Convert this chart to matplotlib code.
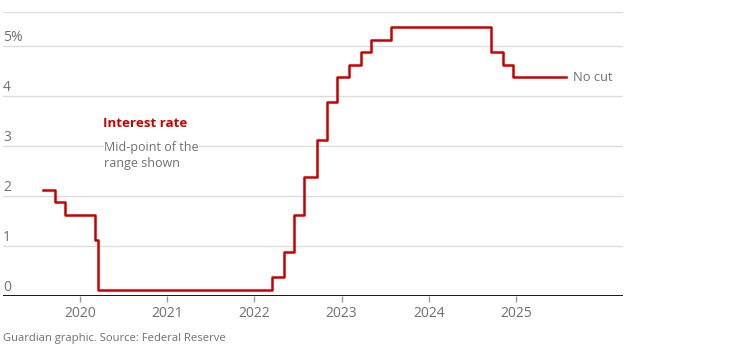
import matplotlib.pyplot as plt
import pandas as pd
import numpy as np

# Fed funds target range, mid-point (%) after each change
change_dates = ["2019-07-31", "2019-09-18", "2019-10-30", "2020-03-03", "2020-03-15",
                "2022-03-16", "2022-05-04", "2022-06-15", "2022-07-27", "2022-09-21",
                "2022-11-02", "2022-12-14", "2023-02-01", "2023-03-22", "2023-05-03",
                "2023-07-26", "2024-09-18", "2024-11-07", "2024-12-18", "2025-07-30"]
mid_rate = [2.125, 1.875, 1.625, 1.125, 0.125,
            0.375, 0.875, 1.625, 2.375, 3.125,
            3.875, 4.375, 4.625, 4.875, 5.125,
            5.375, 4.875, 4.625, 4.375, 4.375]

year_ticks = [2020, 2021, 2022, 2023, 2024, 2025]
rate_ticks = [0, 1, 2, 3, 4, 5]
rate_labels = ["0", "1", "2", "3", "4", "5%"]

d = pd.to_datetime(change_dates)
days = np.where(d.is_leap_year, 366, 365)
x = d.year + (d.dayofyear - 1) / days

red = "#c70000"
grey = "#707070"
plt.rcParams["font.family"] = ["Open Sans", "DejaVu Sans"]

fig = plt.figure(figsize=(7.36, 3.64), dpi=100)
ax = fig.add_axes([3 / 736, 1 - 296 / 364, 620 / 736, (296 - 12.3) / 364])

ax.set_xlim(2019.117, 2026.227)
ax.set_ylim(0, 5.674)

for v in rate_ticks[1:] + [5.674]:
    ax.axhline(v, color="#dcdcdc", lw=1, zorder=1)
ax.axhline(0, color="black", lw=2, zorder=3)

for v, lab in zip(rate_ticks, rate_labels):
    ax.annotate(lab, (0, v), xycoords=("axes fraction", "data"), xytext=(0, 1),
                textcoords="offset points", ha="left", va="bottom",
                fontsize=10, color=grey)

ax.step(x, mid_rate, where="post", color=red, lw=1.8, zorder=4)

ax.set_xticks(year_ticks)
ax.set_xticklabels([str(y) for y in year_ticks])
ax.tick_params(axis="x", length=4, width=1, color="#999999", labelcolor=grey,
               labelsize=10, pad=3)
ax.set_yticks([])
for s in ax.spines.values():
    s.set_visible(False)

ax.text(x[-1] + 0.08, mid_rate[-1], "No cut", ha="left", va="center",
        fontsize=9.3, color=grey)

ax.text(2020.265, 3.46, "Interest rate", ha="left", va="center", fontsize=9.6,
        fontweight="bold", color=red)
ax.text(2020.28, 3.1, "Mid-point of the\nrange shown", ha="left", va="top",
        fontsize=9, color=grey, linespacing=1.3,
        bbox=dict(facecolor="white", edgecolor="none", pad=0))

fig.text(3 / 736, 1 - 339 / 364, "Guardian graphic. Source: Federal Reserve",
         ha="left", va="center", fontsize=8.1, color=grey)

fig.savefig("out.png", dpi=100)
